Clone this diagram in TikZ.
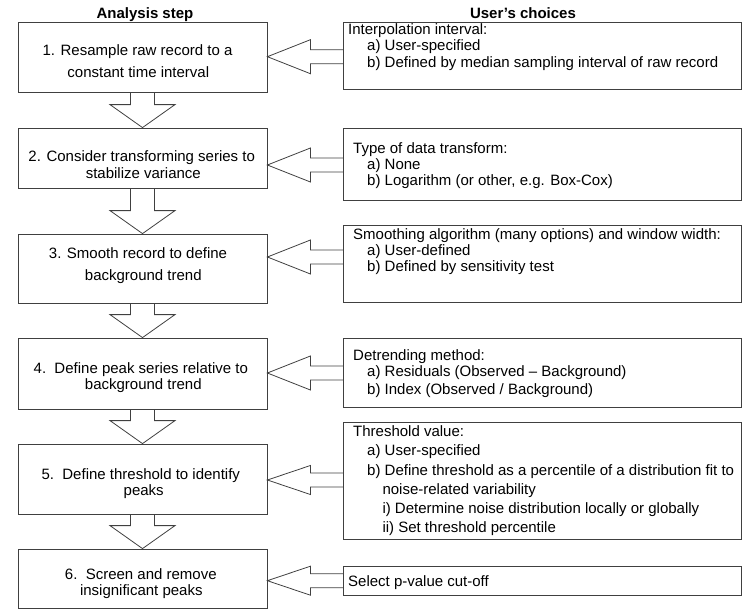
\documentclass[tikz,border=0pt]{standalone}
\usepackage{fontspec}
\setmainfont{Liberation Sans}
\usetikzlibrary{calc}
\newcommand\dnarrow[2]{%
  \draw[bigarrow] ([xshift=-12pt]#1.south) -- ([shift={(-12,-23)}]#2.north)
    -- ([shift={(-32.5,-23)}]#2.north) -- (#2.north)
    -- ([shift={(32.5,-23)}]#2.north) -- ([shift={(12,-23)}]#2.north)
    -- ([xshift=12pt]#1.south);}
\newcommand\lfarrow[4]{%
  \draw[bigarrow] ($(#1.west |- #3)+(0,-7)$) -- ($(#2.east |- #3)+(43,-7)$)
    -- ($(#2.east |- #3)+(43,-#4)$) -- (#2.east |- #3)
    -- ($(#2.east |- #3)+(43,#4)$) -- ($(#2.east |- #3)+(43,7)$)
    -- ($(#1.west |- #3)+(0,7)$);}
\begin{document}
\begin{tikzpicture}[x=1pt,y=-1pt,
  lbox/.style={draw=black!75, line width=0.8pt, inner sep=0pt, minimum width=249pt},
  rbox/.style={draw=black!75, line width=0.8pt, inner sep=0pt, minimum width=397.5pt},
  txt/.style={inner sep=0pt, font=\fontsize{15}{18}\selectfont, anchor=base},
  rtxt/.style={inner sep=0pt, font=\fontsize{15}{18}\selectfont, anchor=base west},
  hdr/.style={inner sep=0pt, font=\fontsize{15}{18}\selectfont\bfseries, anchor=base},
  bigarrow/.style={draw=black!75, line width=0.8pt, line join=miter},
]
\useasboundingbox (0,0) rectangle (742,610);

% headers
\node[hdr] (h1) at (145,18.5) {Analysis step};
\node[hdr] (h2) at (523,18.5) {User's choices};

% left boxes
\node[lbox, minimum height=70pt] (l1) at (142.5,57) {};
\node[lbox, minimum height=60pt] (l2) at (142.5,158) {};
\node[lbox, minimum height=69pt] (l3) at (142.5,268.5) {};
\node[lbox, minimum height=71pt] (l4) at (142.5,373.5) {};
\node[lbox, minimum height=70pt] (l5) at (142.5,479) {};
\node[lbox, minimum height=59pt] (l6) at (142.5,578.5) {};

% right boxes
\node[rbox, minimum height=67pt] (r1) at (542.25,55.5) {};
\node[rbox, minimum height=72pt] (r2) at (542.25,164) {};
\node[rbox, minimum height=77pt] (r3) at (542.25,263.5) {};
\node[rbox, minimum height=69pt] (r4) at (542.25,372.5) {};
\node[rbox, minimum height=117pt] (r5) at (542.25,480.5) {};
\node[rbox, minimum height=29pt] (r6) at (542.25,580.5) {};

% left texts
\node[txt] (l1a) at (137.5,55.7) {1. Resample raw record to a};
\node[txt] (l1b) at (138.3,77.3) {constant time interval};
\node[txt] (l2a) at (141.7,161.7) {2. Consider transforming series to};
\node[txt] (l2b) at (143.3,178.3) {stabilize variance};
\node[txt] (l3a) at (138,258.3) {3. Smooth record to define};
\node[txt] (l3b) at (143.3,280) {background trend};
\node[txt] (l4a) at (140.8,373.3) {4.\ \ Define peak series relative to};
\node[txt] (l4b) at (143.3,389) {background trend};
\node[txt] (l5a) at (140.8,479.3) {5.\ \ Define threshold to identify};
\node[txt] (l5b) at (143.7,495) {peaks};
\node[txt] (l6a) at (140.8,579.3) {6.\ \ Screen and remove};
\node[txt] (l6b) at (141.3,595) {insignificant peaks};

% right texts
\node[rtxt] (r1a) at (348,34.3) {Interpolation interval:};
\node[rtxt] (r1b) at (367,50.7) {a) User-specified};
\node[rtxt] (r1c) at (367,67.3) {b) Defined by median sampling interval of raw record};
\node[rtxt] (r2a) at (353,153.3) {Type of data transform:};
\node[rtxt] (r2b) at (367,169.3) {a) None};
\node[rtxt] (r2c) at (367,185.7) {b) Logarithm (or other, e.g. Box-Cox)};
\node[rtxt] (r3a) at (353,239) {Smoothing algorithm (many options) and window width:};
\node[rtxt] (r3b) at (367,255) {a) User-defined};
\node[rtxt] (r3c) at (367,271) {b) Defined by sensitivity test};
\node[rtxt] (r4a) at (353,360) {Detrending method:};
\node[rtxt] (r4b) at (367,376.7) {a) Residuals (Observed -- Background)};
\node[rtxt] (r4c) at (367,394.3) {b) Index (Observed / Background)};
\node[rtxt] (r5a) at (353,436.7) {Threshold value:};
\node[rtxt] (r5b) at (367,455.9) {a) User-specified};
\node[rtxt] (r5c) at (367,475.1) {b) Define threshold as a percentile of a distribution fit to};
\node[rtxt] (r5d) at (382.3,494.3) {noise-related variability};
\node[rtxt] (r5e) at (382.3,513.5) {i) Determine noise distribution locally or globally};
\node[rtxt] (r5f) at (382.3,532.7) {ii) Set threshold percentile};
\node[rtxt] (r6a) at (348,586) {Select p-value cut-off};

% arrow levels
\coordinate (a1) at (305,56.7);
\coordinate (a2) at (305,165);
\coordinate (a3) at (305,257);
\coordinate (a4) at (305,373);
\coordinate (a5) at (305,480);
\coordinate (a6) at (305,580.7);

% down arrows
\dnarrow{l1}{l2}
\dnarrow{l2}{l3}
\dnarrow{l3}{l4}
\dnarrow{l4}{l5}
\dnarrow{l5}{l6}

% left arrows
\lfarrow{r1}{l1}{a1}{17}
\lfarrow{r2}{l2}{a2}{17}
\lfarrow{r3}{l3}{a3}{17}
\lfarrow{r4}{l4}{a4}{17}
\lfarrow{r5}{l5}{a5}{14.5}
\lfarrow{r6}{l6}{a6}{14.5}
\end{tikzpicture}
\end{document}
